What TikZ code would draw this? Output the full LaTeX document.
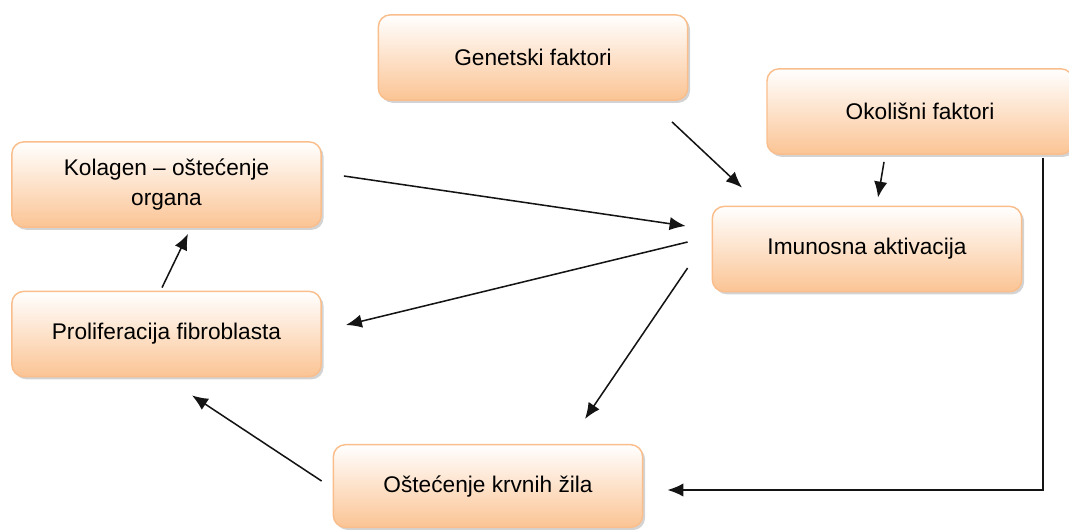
\documentclass[tikz,border=0pt]{standalone}
\usepackage{fontspec}
\setmainfont{Liberation Sans}
\usetikzlibrary{arrows.meta,shadows}
\definecolor{boxline}{RGB}{249,190,140}
\definecolor{boxbot}{RGB}{251,196,148}
\definecolor{arrowc}{RGB}{20,20,20}
\tikzset{
  box/.style={rounded corners=9pt, draw=boxline, line width=1.1pt,
    top color=white, bottom color=boxbot,
    drop shadow={shadow xshift=1.8pt, shadow yshift=-2pt, opacity=0.35},
    minimum width=232pt, minimum height=64pt, inner sep=2pt,
    align=center, font=\fontsize{17}{22}\selectfont},
  conn/.style={line width=1.15pt, draw=arrowc, -{Latex[length=12pt,width=10pt]}}
}
\begin{document}
\begin{tikzpicture}[x=0.75pt,y=-0.75pt]
\useasboundingbox (0,0) rectangle (1069,529);
\node[box] (gen) at (533,57.5) {Genetski faktori};
\node[box, minimum width=229.5pt] (oko) at (920,111.5) {Okolišni faktori};
\node[box] (kol) at (166.5,184.5) {Kolagen – oštećenje\\organa};
\node[box] (pro) at (166.5,334) {Proliferacija fibroblasta};
\node[box] (imu) at (867,249) {Imunosna aktivacija};
\node[box, minimum height=62pt] (ost) at (488,486) {Oštećenje krvnih žila};
\draw[conn] ([shift={(139,21)}]gen.south) -- ([shift={(-125,-18)}]imu.north);
\draw[conn] ([shift={(-36,7)}]oko.south) -- ([shift={(11,-8)}]imu.north);
\draw[conn] ([shift={(22,-8.5)}]kol.east) -- ([shift={(-26,-23)}]imu.west);
\draw[conn] ([shift={(-24,-7)}]imu.west) -- ([shift={(24,-9)}]pro.east);
\draw[conn] ([shift={(-24,19)}]imu.west) -- ([shift={(97,-25)}]ost.north);
\draw[conn] ([shift={(-4.5,-3)}]pro.north) -- ([shift={(21.5,6)}]kol.south);
\draw[conn] ([shift={(-11,-5)}]ost.west) -- ([shift={(25.5,18)}]pro.south);
\draw[conn] ([shift={(123,3)}]oko.south) |- ([shift={(24,4)}]ost.east);
\end{tikzpicture}
\end{document}
